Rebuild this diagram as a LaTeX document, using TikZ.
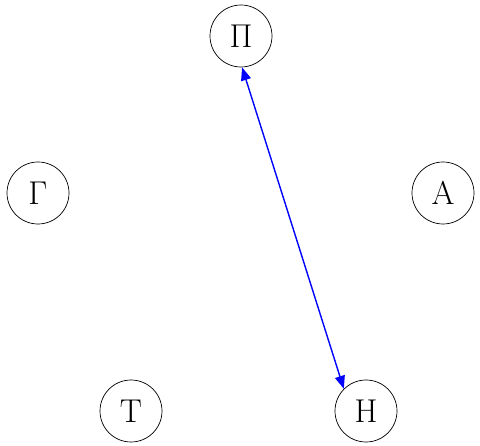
\documentclass[tikz,border=0pt]{standalone}
\usetikzlibrary{arrows.meta}
\begin{document}
\begin{tikzpicture}[x=1pt,y=-1pt,
  vert/.style={circle,draw=black,line width=0.7pt,minimum size=62pt,inner sep=0pt,font=\fontsize{33}{38}\selectfont},
  edge/.style={draw=blue,line width=1.4pt,{Triangle[length=13pt,width=10pt]}-{Triangle[length=13pt,width=10pt]}}]
\useasboundingbox (0,0) rectangle (480,446);
\node[vert] (P) at (241,36) {Π};
\node[vert] (A) at (443,193) {Α};
\node[vert] (H) at (366,411) {Η};
\node[vert] (T) at (131,411) {Τ};
\node[vert] (G) at (38,193) {Γ};
\draw[edge] (P.-88) -- (H.135);
\end{tikzpicture}
\end{document}
